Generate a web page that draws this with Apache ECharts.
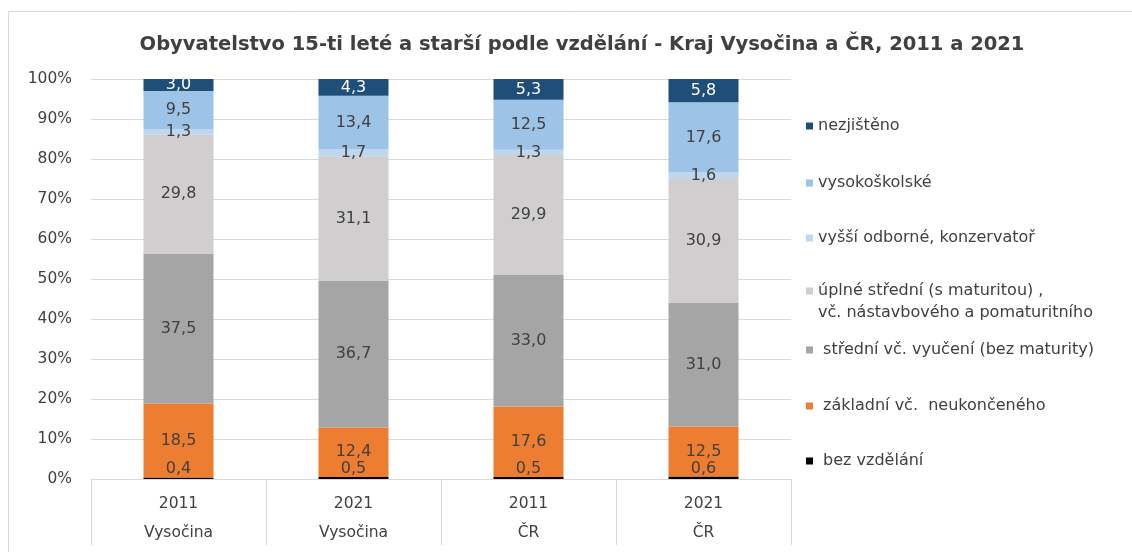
<!DOCTYPE html>
<html><head><meta charset="utf-8">
<script src="https://cdn.jsdelivr.net/npm/echarts@6/dist/echarts.min.js"></script>
<style>html,body{margin:0;padding:0;background:#fff}#c{width:1132px;height:552px}</style>
</head><body><div id="c"></div>
<script>
var categories = ['2011\nVysočina', '2021\nVysočina', '2011\nČR', '2021\nČR'];
var seriesNames = [' bez vzdělání', ' základní vč.  neukončeného', ' střední vč. vyučení (bez maturity)', 'úplné střední (s maturitou) ,\nvč. nástavbového a pomaturitního', 'vyšší odborné, konzervatoř', 'vysokoškolské', 'nezjištěno'];
var bezVzdelani = [0.4, 0.5, 0.5, 0.6];
var zakladni = [18.5, 12.4, 17.6, 12.5];
var stredniVyuceni = [37.5, 36.7, 33.0, 31.0];
var uplneStredni = [29.8, 31.1, 29.9, 30.9];
var vyssiOdborne = [1.3, 1.7, 1.3, 1.6];
var vysokoskolske = [9.5, 13.4, 12.5, 17.6];
var nezjisteno = [3.0, 4.3, 5.3, 5.8];
var yTicks = [0, 10, 20, 30, 40, 50, 60, 70, 80, 90, 100];

var values = [bezVzdelani, zakladni, stredniVyuceni, uplneStredni, vyssiOdborne, vysokoskolske, nezjisteno];
var colors = ['#000000', '#ED7D31', '#A5A5A5', '#D0CECE', '#BDD7EE', '#9DC3E6', '#1F4E79'];
var font = 'DejaVu Sans';
function fmt(p){ return p.value.toFixed(1).replace('.', ','); }

var series = values.map(function(v, i){
  return {
    name: seriesNames[i], type: 'bar', stack: 'total', data: v, barWidth: '40%',
    itemStyle: {color: colors[i]},
    label: {
      show: true, position: i === 0 ? 'insideBottom' : 'inside', distance: 2,
      formatter: fmt, fontFamily: font, fontSize: 16,
      color: i === 6 ? '#ffffff' : '#404040'
    }
  };
});

// legend entries top to bottom (reverse order), each placed separately
var legendCenters = [126, 183, 238, 304, 350, 406, 461];
var legends = [];
for (var k = 0; k < 7; k++) {
  var idx = 6 - k;
  var twoLine = (k === 3);
  legends.push({
    data: [seriesNames[idx]], left: 806, top: legendCenters[k] - (twoLine ? 24 : 12), orient: 'vertical',
    itemWidth: 7, itemHeight: twoLine ? 29 : 7, itemGap: 0, selectedMode: false,
    icon: twoLine ? 'path://M0,0L7,0L7,7L0,7Z M0,29L7,29' : 'rect',
    textStyle: {fontFamily: font, fontSize: 16, color: '#404040', lineHeight: twoLine ? 22 : 24},
    padding: 0
  });
}

var chart = echarts.init(document.getElementById('c'), null, {renderer: 'canvas'});
chart.setOption({
  animation: false,
  backgroundColor: '#ffffff',
  title: {
    text: 'Obyvatelstvo 15-ti leté a starší podle vzdělání - Kraj Vysočina a ČR, 2011 a 2021',
    left: 577, top: 30, textAlign: 'center',
    textStyle: {fontFamily: font, fontWeight: 'bold', fontSize: 19.5, color: '#404040'}
  },
  legend: legends,
  grid: {left: 91, right: 341, top: 79, bottom: 73},
  graphic: [{type: 'rect', shape: {x: 8.5, y: 11.5, width: 1200, height: 600}, style: {fill: 'none', stroke: '#d9d9d9', lineWidth: 1}, silent: true}],
  xAxis: {
    type: 'category', data: categories,
    axisLine: {lineStyle: {color: '#d9d9d9'}},
    axisTick: {show: true, length: 66, lineStyle: {color: '#d9d9d9'}},
    axisLabel: {fontFamily: font, fontSize: 15.5, color: '#404040', lineHeight: 29, margin: 10}
  },
  yAxis: {
    type: 'value', min: 0, max: 100, interval: 10,
    axisLine: {show: false}, axisTick: {show: false},
    splitLine: {lineStyle: {color: '#d9d9d9'}},
    axisLabel: {fontFamily: font, fontSize: 15.5, color: '#404040', margin: 19, formatter: function(v){ return v + '%'; }}
  },
  series: series
});
</script></body></html>
